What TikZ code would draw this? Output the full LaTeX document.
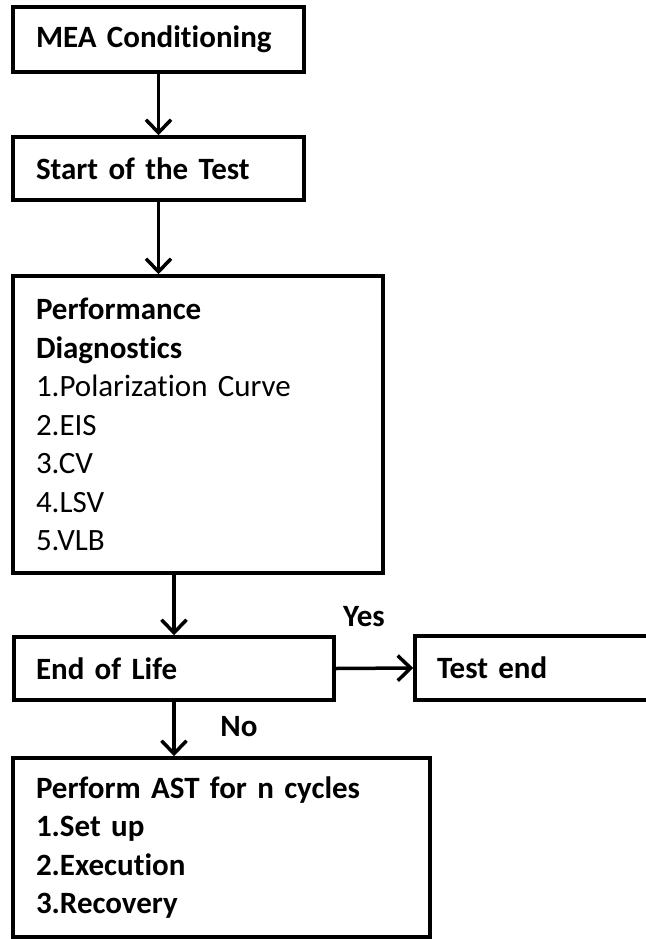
\documentclass[tikz,border=0pt]{standalone}
\usepackage{fontspec}
\setmainfont{Carlito}[Ligatures=NoCommon]
\usetikzlibrary{arrows.meta}
\tikzset{
  flowbox/.style={draw=black, line width=3.5pt, rectangle, align=left, inner xsep=0pt, inner ysep=0pt,
    font=\fontsize{31}{38.5}\selectfont},
  flowarrow/.style={draw=black, line width=3.5pt, -{Straight Barb[length=13pt,width=25pt]}},
  lbl/.style={font=\fontsize{31}{38.5}\selectfont\bfseries, inner sep=0pt}
}
\begin{document}
\begin{tikzpicture}[x=1pt,y=1pt]
\useasboundingbox (0,0) rectangle (645,-939);
\fill[white] (0,0) rectangle (645,-939);
\node[flowbox, minimum width=291, minimum height=65, text width=245] (b1) at (158.5,-39.5) {\textbf{MEA Conditioning}};
\node[flowbox, minimum width=291, minimum height=63, text width=245] (b2) at (158.5,-168.5) {\textbf{Start of the Test}};
\node[flowbox, minimum width=370, minimum height=297, text width=324] (b3) at (198,-424.5)
  {\textbf{Performance}\\\textbf{Diagnostics}\\1.Polarization Curve\\2.EIS\\3.CV\\4.LSV\\5.VLB};
\node[flowbox, minimum width=320, minimum height=63, text width=276] (eol) at (174,-668.5) {\textbf{End of Life}};
\node[flowbox, minimum width=285, minimum height=64, text width=241] (tend) at (557.5,-668) {\textbf{Test end}};
\node[flowbox, minimum width=417, minimum height=179, text width=371] (ast) at (221.5,-847.5)
  {\textbf{Perform AST for n cycles}\\\textbf{1.Set up}\\\textbf{2.Execution}\\\textbf{3.Recovery}};
\draw[flowarrow] (b1.south) -- (b2.north);
\draw[flowarrow] (b2.south) -- (b2.south |- b3.north);
\draw[flowarrow] (b3.south -| eol.north) -- (eol.north);
\draw[flowarrow] (eol.south) -- (eol.south |- ast.north);
\draw[flowarrow] (eol.east) -- (tend.west);
\node[lbl] (yes) at (364,-617) {Yes};
\node[lbl] (no) at (239,-727) {No};
\end{tikzpicture}
\end{document}
